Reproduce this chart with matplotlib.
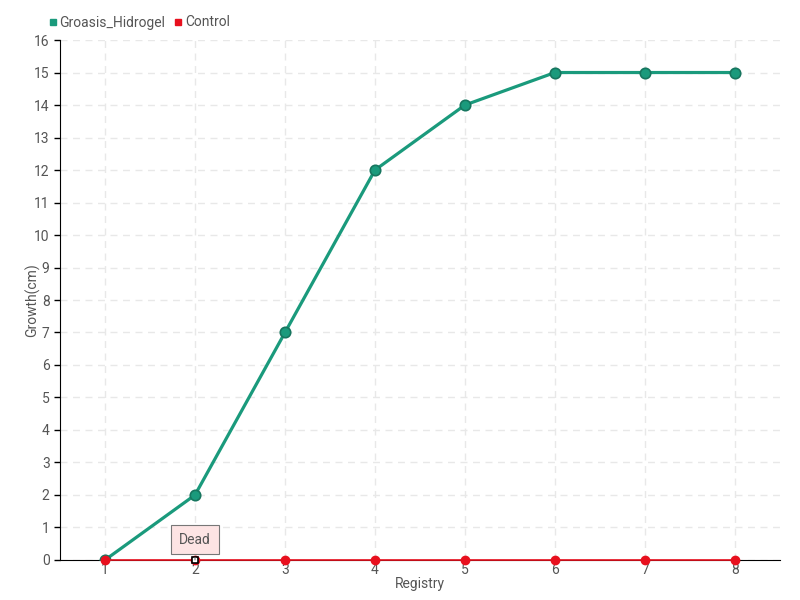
import matplotlib
matplotlib.use("Agg")
import matplotlib.pyplot as plt
from matplotlib.lines import Line2D

registry = [1, 2, 3, 4, 5, 6, 7, 8]
groasis = [0, 2, 7, 12, 14, 15, 15, 15]
control = [0, 0, 0, 0, 0, 0, 0, 0]
yticks = list(range(0, 17))

plt.rcParams['font.family'] = ['Roboto', 'DejaVu Sans']
green = '#1a9a7c'
green_edge = '#17765f'
red = '#e8101e'
txt = '#555555'

fig = plt.figure(figsize=(8, 6), dpi=100)
ax = fig.add_axes([0.075, 0.0667, 0.9, 0.8666])

ax.plot(registry, groasis, color=green, lw=2.3, marker='o', ms=7.5,
        markerfacecolor=green, markeredgecolor=green_edge, mew=1.2, zorder=4)
ax.plot(registry, control, color=red, lw=1.2, marker='o', ms=6,
        markerfacecolor=red, markeredgecolor=red, zorder=5, clip_on=False)
ax.plot([registry[1]], [control[1]], marker='s', ms=5, markerfacecolor='white',
        markeredgecolor='black', mew=1.2, zorder=6, clip_on=False)

ax.set_xlim(0.5, 8.5)
ax.set_ylim(0, 16)
ax.set_xticks(registry)
ax.set_yticks(yticks)
ax.grid(True, color='#e8e8e8', linestyle=(0, (5, 4)), lw=1)
ax.set_axisbelow(True)
for s in ['top', 'right']:
    ax.spines[s].set_visible(False)
ax.spines['left'].set_color('black')
ax.spines['bottom'].set_color('black')
ax.tick_params(axis='y', length=4, colors=txt, labelsize=10, width=1)
ax.tick_params(axis='x', length=0, colors=txt, labelsize=10, pad=2)
for t in ax.get_yticklabels() + ax.get_xticklabels():
    t.set_color(txt)
ax.tick_params(axis='y', color='black')
ax.set_xlabel('Registry', color=txt, fontsize=10, labelpad=0)
ax.set_ylabel('Growth(cm)', color=txt, fontsize=10)
ax.yaxis.set_label_coords(-0.028, 0.5)

ax.annotate('Dead', xy=(registry[1], control[1]), xytext=(registry[1], 0.62),
            ha='center', va='center', fontsize=10, color=txt,
            bbox=dict(boxstyle='square,pad=0.55', fc='#fde4e4', ec='#777777', lw=0.8),
            arrowprops=dict(arrowstyle='-', color='#777777', lw=0.8), zorder=7)

handles = [Line2D([], [], marker='s', color='none', markerfacecolor=green, markeredgecolor=green, ms=5),
           Line2D([], [], marker='s', color='none', markerfacecolor=red, markeredgecolor=red, ms=5)]
fig.legend(handles, ['Groasis_Hidrogel', 'Control'], loc='upper left',
           bbox_to_anchor=(0.045, 0.995), ncol=2, frameon=False, fontsize=10,
           handlelength=0.6, handletextpad=0.2, columnspacing=0.6, labelcolor=txt)

fig.savefig('out.png', dpi=100)
